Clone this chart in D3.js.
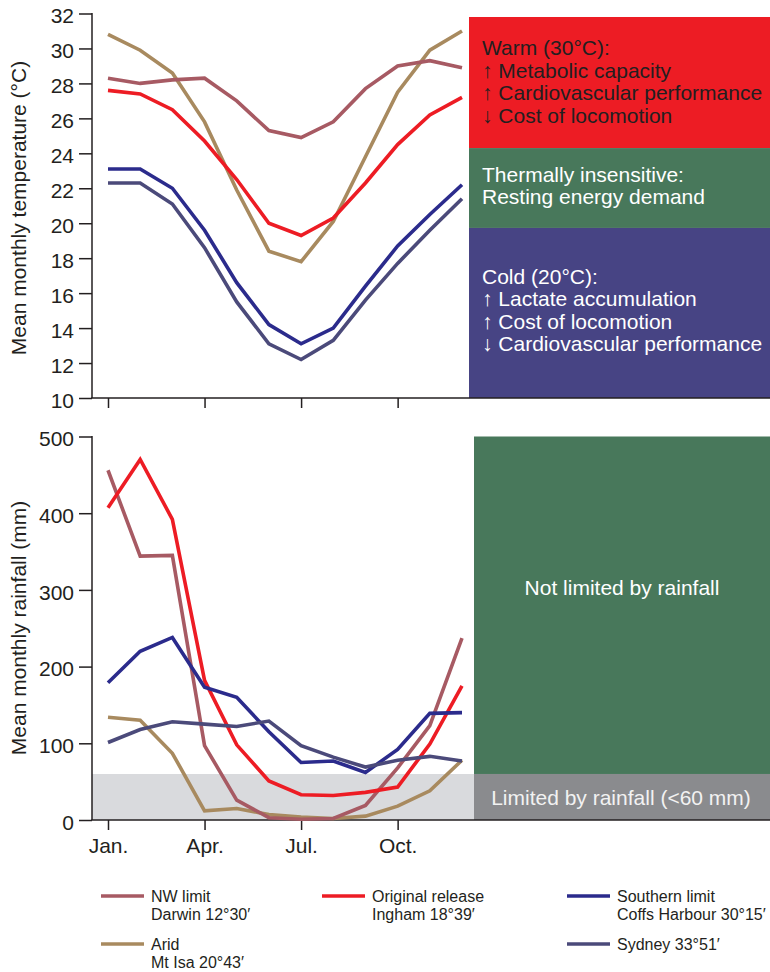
<!DOCTYPE html>
<html><head><meta charset="utf-8">
<script src="https://cdn.jsdelivr.net/npm/d3@7"></script>
<style>
body{margin:0;background:#fff}
svg{display:block;font-family:"Liberation Sans",Arial,Helvetica,sans-serif}
</style>
</head><body>
<svg id="c" width="770" height="972"></svg>
<script>
// ---------- data ----------
const months = ["Jan","Feb","Mar","Apr","May","Jun","Jul","Aug","Sep","Oct","Nov","Dec"];
const monthTicks = ["Jan","Apr","Jul","Oct"];
const tempTicks = [10,12,14,16,18,20,22,24,26,28,30,32];
const rainTicks = [0,100,200,300,400,500];

const tempDarwin = [28.3, 28.0, 28.2, 28.3, 27.0, 25.3, 24.9, 25.8, 27.7, 29.0, 29.3, 28.9];
const tempMtIsa  = [30.8, 29.9, 28.6, 25.8, 21.9, 18.4, 17.8, 20.1, 23.8, 27.5, 29.9, 31.0];
const tempIngham = [27.6, 27.4, 26.5, 24.7, 22.5, 20.0, 19.3, 20.3, 22.3, 24.5, 26.2, 27.2];
const tempCoffs  = [23.1, 23.1, 22.0, 19.6, 16.6, 14.2, 13.1, 14.0, 16.4, 18.7, 20.5, 22.2];
const tempSydney = [22.3, 22.3, 21.1, 18.6, 15.5, 13.1, 12.2, 13.3, 15.6, 17.7, 19.6, 21.4];

const rainDarwin = [456, 344, 345, 97, 26, 3, 1, 2, 19, 68, 123, 237];
const rainMtIsa  = [134, 130, 87, 12, 15, 7, 4, 2, 5, 18, 38, 78];
const rainIngham = [407, 470, 392, 182, 98, 51, 33, 32, 36, 43, 99, 175];
const rainCoffs  = [179, 220, 238, 173, 160, 115, 75, 77, 62, 92, 139, 140];
const rainSydney = [101, 118, 128, 125, 122, 129, 97, 82, 69, 78, 83, 77];

const seriesKeys   = ["mtisa","darwin","ingham","coffs","sydney"];
const seriesColors = {darwin:"#a75a63", mtisa:"#a88a5f", ingham:"#ed1c24", coffs:"#2b2b8c", sydney:"#4b4a7a"};
const tempByKey = {darwin:tempDarwin, mtisa:tempMtIsa, ingham:tempIngham, coffs:tempCoffs, sydney:tempSydney};
const rainByKey = {darwin:rainDarwin, mtisa:rainMtIsa, ingham:rainIngham, coffs:rainCoffs, sydney:rainSydney};

const legendKeys  = ["darwin","ingham","coffs","mtisa","sydney"];
const legendLines = {
  darwin:["NW limit","Darwin 12°30′"],
  ingham:["Original release","Ingham 18°39′"],
  coffs:["Southern limit","Coffs Harbour 30°15′"],
  mtisa:["Arid","Mt Isa 20°43′"],
  sydney:["Sydney 33°51′"]
};

const warmText = ["Warm (30°C):","↑ Metabolic capacity","↑ Cardiovascular performance","↓ Cost of locomotion"];
const neutralText = ["Thermally insensitive:","Resting energy demand"];
const coldText = ["Cold (20°C):","↑ Lactate accumulation","↑ Cost of locomotion","↓ Cardiovascular performance"];

// ---------- layout ----------
const ink = "#231f20";
const svg = d3.select("#c");
const axX = 92;
const x = d3.scalePoint().domain(months).range([108, 462]);
const yT = d3.scaleLinear().domain([10,32]).range([398, 13.5]);
const yR = d3.scaleLinear().domain([0,500]).range([820, 436.5]);

// ---- top panel boxes ----
const boxL = 469, boxR = 770;
const tBoxes = [
  {top:31.8, bot:24.3, fill:"#ed1c24", text:warmText, color:ink, base:55},
  {top:24.3, bot:19.73, fill:"#48785b", text:neutralText, color:"#fff", base:181.5},
  {top:19.73, bot:10, fill:"#474484", text:coldText, color:"#fff", base:283.5}
];
tBoxes.forEach(b=>{
  svg.append("rect").attr("x",boxL).attr("y",yT(b.top)).attr("width",boxR-boxL)
     .attr("height",yT(b.bot)-yT(b.top)).attr("fill",b.fill);
  const t = svg.append("text").attr("x",482).attr("y",b.base).attr("font-size",21).attr("fill",b.color);
  b.text.forEach((s,i)=>t.append("tspan").attr("x",482).attr("y",b.base+i*22.6).text(s));
});

// ---- bottom panel boxes ----
const rBoxL = 474;
svg.append("rect").attr("x",axX).attr("y",yR(60)).attr("width",rBoxL-axX)
   .attr("height",yR(0)-yR(60)).attr("fill","#d9dadd");
svg.append("rect").attr("x",rBoxL).attr("y",yR(500)).attr("width",boxR-rBoxL)
   .attr("height",yR(60)-yR(500)).attr("fill","#48785b");
svg.append("rect").attr("x",rBoxL).attr("y",yR(60)).attr("width",boxR-rBoxL)
   .attr("height",yR(0)-yR(60)).attr("fill","#8a8b8e");
svg.append("text").attr("x",622).attr("y",595).attr("text-anchor","middle")
   .attr("font-size",21).attr("fill","#fff").text("Not limited by rainfall");
svg.append("text").attr("x",621).attr("y",805).attr("text-anchor","middle")
   .attr("font-size",21).attr("fill","#f2f2f2").text("Limited by rainfall (<60 mm)");

// ---- axes ----
function yAxis(scale, ticks){
  const g = svg.append("g").attr("transform",`translate(${axX},0)`)
    .call(d3.axisLeft(scale).tickValues(ticks).tickSize(13).tickPadding(5).tickSizeOuter(0));
  g.select(".domain").remove();
  g.selectAll(".tick line").attr("stroke",ink).attr("stroke-width",1.5);
  g.selectAll(".tick text").attr("font-size",21).attr("fill",ink).attr("dy","0.44em")
    .attr("font-family","Liberation Sans, Arial, sans-serif");
  g.append("line").attr("x1",0).attr("x2",0).attr("y1",scale.range()[1]-0.5).attr("y2",scale.range()[0])
    .attr("stroke",ink).attr("stroke-width",1.5);
}
function xAxis(yPos, labels){
  const g = svg.append("g").attr("transform",`translate(0,${yPos})`)
    .call(d3.axisBottom(x).tickValues(monthTicks).tickSize(10).tickPadding(8)
      .tickFormat(d=>labels? d+"." : ""));
  g.select(".domain").remove();
  g.selectAll(".tick line").attr("stroke",ink).attr("stroke-width",1.5);
  g.selectAll(".tick text").attr("font-size",21).attr("fill",ink).attr("font-family","Liberation Sans, Arial, sans-serif");
  g.append("line").attr("x1",axX-0.75).attr("x2",770).attr("y1",0).attr("y2",0)
    .attr("stroke",ink).attr("stroke-width",1.5);
}
yAxis(yT, tempTicks);
xAxis(398, false);
yAxis(yR, rainTicks);
xAxis(820, true);

// axis titles
svg.append("text").attr("transform","translate(26,208) rotate(-90)").attr("text-anchor","middle")
   .attr("font-size",21).attr("fill",ink).text("Mean monthly temperature (°C)");
svg.append("text").attr("transform","translate(26,628) rotate(-90)").attr("text-anchor","middle")
   .attr("font-size",21).attr("fill",ink).text("Mean monthly rainfall (mm)");

// ---- lines ----
const lineT = d3.line().x((d,i)=>x(months[i])).y(d=>yT(d));
const lineR = d3.line().x((d,i)=>x(months[i])).y(d=>yR(d));
seriesKeys.forEach(k=>{
  svg.append("path").attr("d",lineT(tempByKey[k])).attr("fill","none")
     .attr("stroke",seriesColors[k]).attr("stroke-width",3.6);
  svg.append("path").attr("d",lineR(rainByKey[k])).attr("fill","none")
     .attr("stroke",seriesColors[k]).attr("stroke-width",3.6);
});

// ---- legend ----
const legCols = {darwin:101, mtisa:101, ingham:322, coffs:567, sydney:567};
const legRows = {darwin:896, ingham:896, coffs:896, mtisa:944, sydney:944};
legendKeys.forEach(k=>{
  const lx = legCols[k], ly = legRows[k];
  svg.append("line").attr("x1",lx).attr("x2",lx+43).attr("y1",ly).attr("y2",ly)
     .attr("stroke",seriesColors[k]).attr("stroke-width",3.6);
  const t = svg.append("text").attr("font-size",16).attr("fill",ink);
  legendLines[k].forEach((s,i)=>t.append("tspan").attr("x",lx+50).attr("y",ly+6+i*17.5).text(s));
});
</script>
</body></html>
